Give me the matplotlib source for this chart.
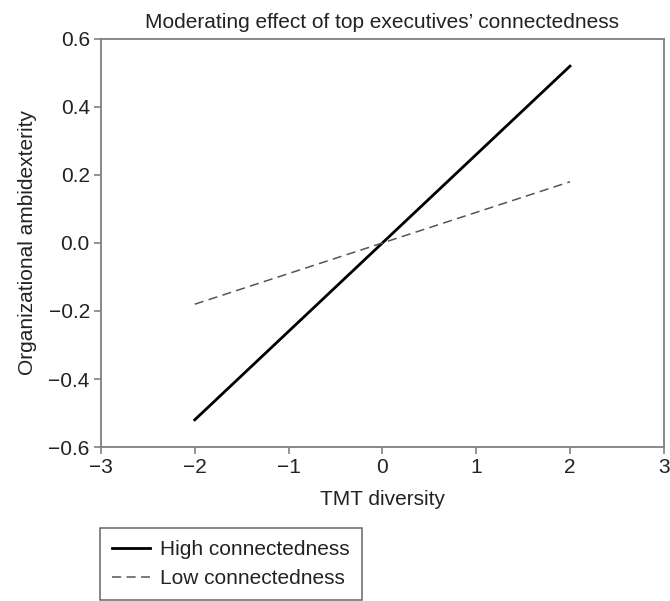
import matplotlib.pyplot as plt

# valeurs
x_vals = [-2, 2]
high_conn = [-0.52, 0.52]
low_conn = [-0.18, 0.18]
x_ticks = [-3, -2, -1, 0, 1, 2, 3]
y_ticks = [-0.6, -0.4, -0.2, 0.0, 0.2, 0.4, 0.6]

plt.rcParams['font.family'] = ['Liberation Sans', 'DejaVu Sans']

fig = plt.figure(figsize=(6.7, 6.01), dpi=100)
ax = fig.add_axes([0.1507, 0.2562, 0.840, 0.679])

ax.plot(x_vals, high_conn, color='black', lw=2.0, label='High connectedness')
ax.plot(x_vals, low_conn, color='#555555', lw=1.1, ls=(0, (6, 3.5)), label='Low connectedness')

ax.set_xlim(-3, 3)
ax.set_ylim(-0.6, 0.6)
ax.set_xticks(x_ticks)
ax.set_yticks(y_ticks)
ax.set_xticklabels([f"{t:d}".replace('-', '\u2212') for t in x_ticks])
ax.set_yticklabels([f"{t:.1f}".replace('-', '\u2212') for t in y_ticks])
ax.tick_params(direction='out', length=5, width=1.1, colors='#777777', labelsize=15,
               labelcolor='#222222', pad=3)
for s in ax.spines.values():
    s.set_color('#808080')
    s.set_linewidth(1.3)

ax.set_title("Moderating effect of top executives\u2019 connectedness", fontsize=15, pad=8, color='#222222')
ax.set_xlabel('TMT diversity', fontsize=15, labelpad=9, color='#222222')
ax.set_ylabel('Organizational ambidexterity', fontsize=15, labelpad=8, color='#222222')

leg = fig.legend(loc='upper left', bbox_to_anchor=(0.149, 0.1215), fontsize=15,
                 fancybox=False, edgecolor='#666666', framealpha=1,
                 borderpad=0.6, handlelength=1.8, handletextpad=0.5,
                 labelspacing=0.45, borderaxespad=0)
leg.get_frame().set_linewidth(1.1)
for t in leg.get_texts():
    t.set_color('#222222')

fig.savefig('out.png', dpi=100)
